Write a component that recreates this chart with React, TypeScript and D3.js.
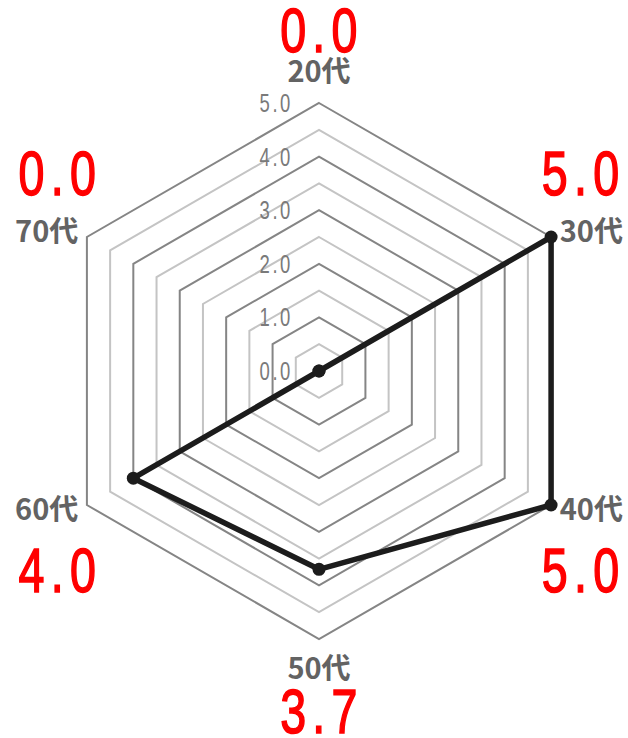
import * as d3 from 'd3';
import { useEffect, useRef } from 'react';

const categories = ['20代', '30代', '40代', '50代', '60代', '70代'];
const values = [0.0, 5.0, 5.0, 3.7, 4.0, 0.0];
const ringSteps = [0.5, 1, 1.5, 2, 2.5, 3, 3.5, 4, 4.5, 5];
const tickValues = [0, 1, 2, 3, 4, 5];

const App = () => {
    const ref = useRef<SVGSVGElement | null>(null);

    useEffect(() => {
        if (!ref.current) return;
        const width = 628;
        const height = 738;
        const cx = 319;
        const cy = 371;
        const R = 268;

        const svg = d3.select(ref.current);
        svg.selectAll('*').remove();
        svg.attr('width', width).attr('height', height);

        const r = d3.scaleLinear().domain([0, 5]).range([0, R]);
        const angle = (i: number) => (i * 2 * Math.PI) / categories.length;

        const g = svg.append('g').attr('transform', `translate(${cx},${cy})`);

        // grid rings, integers darker
        const ring = d3.lineRadial<number>()
            .angle((_, i) => angle(i))
            .radius(d => r(d))
            .curve(d3.curveLinearClosed);

        g.selectAll('path.ring')
            .data(ringSteps)
            .join('path')
            .attr('class', 'ring')
            .attr('fill', 'none')
            .attr('stroke', d => (Number.isInteger(d) ? '#858585' : '#c4c4c4'))
            .attr('stroke-width', 2)
            .attr('d', d => ring(categories.map(() => d)) as string);

        // tick labels
        g.selectAll('text.tick')
            .data(tickValues)
            .join('text')
            .attr('class', 'tick')
            .attr('transform', d => `translate(-26,${-r(d)}) scale(0.74,1)`)
            .attr('text-anchor', 'end')
            .attr('dy', '0.36em')
            .style('font-family', '"Liberation Sans", sans-serif')
            .style('font-size', '25px')
            .style('letter-spacing', '3.5px')
            .style('fill', '#7a7a7a')
            .text(d => d.toFixed(1));

        // data polygon
        const line = d3.lineRadial<number>()
            .angle((_, i) => angle(i))
            .radius(d => r(d))
            .curve(d3.curveLinearClosed);

        g.append('path')
            .attr('fill', 'none')
            .attr('stroke', '#1c1c1c')
            .attr('stroke-width', 5.5)
            .attr('stroke-linejoin', 'round')
            .attr('d', line(values) as string);

        const pt = (v: number, i: number) => {
            const a = angle(i) - Math.PI / 2;
            return [Math.cos(a) * r(v), Math.sin(a) * r(v)];
        };

        g.selectAll('circle.pt')
            .data(values)
            .join('circle')
            .attr('class', 'pt')
            .attr('cx', (d, i) => pt(d, i)[0])
            .attr('cy', (d, i) => pt(d, i)[1])
            .attr('r', 6.5)
            .attr('fill', '#1c1c1c');

        // axis labels + value labels
        categories.forEach((c, i) => {
            const a = angle(i) - Math.PI / 2;
            const cos = Math.cos(a);
            const sin = Math.sin(a);
            const lx = cos * (R + 10);
            const ly = sin * (R + 10);
            const side = Math.abs(cos) > 0.1;
            const anchor = !side ? 'middle' : cos > 0 ? 'start' : 'end';
            let base = ly + 10;
            if (!side) base = sin < 0 ? ly - 11 : ly + 30;

            g.append('text')
                .attr('x', lx)
                .attr('y', base)
                .attr('text-anchor', anchor)
                .style('font-family', '"Noto Sans CJK JP", sans-serif')
                .style('font-weight', 'bold')
                .style('font-size', '29px')
                .style('fill', '#636363')
                .text(c);

            const vx = side ? cos * (R + 34) : 0;
            let vy = sin < 0 ? ly - 37 : ly + 82;
            if (!side) vy = sin < 0 ? ly - 41 : ly + 84;

            g.append('text')
                .attr('transform', `translate(${vx + 3},${vy}) scale(0.74,1)`)
                .attr('text-anchor', 'middle')
                .style('font-family', '"Liberation Sans", sans-serif')
                .style('font-size', '63px')
                .style('letter-spacing', '8.5px')
                .style('fill', '#ff0000')
                .style('stroke', '#ff0000')
                .style('stroke-width', 1.6)
                .text(values[i].toFixed(1));
        });
    }, []);

    return (
        <svg
            ref={ref}
            style={{ position: 'absolute', left: 0, top: 0, background: '#fff' }}
        />
    );
};

export default App;
